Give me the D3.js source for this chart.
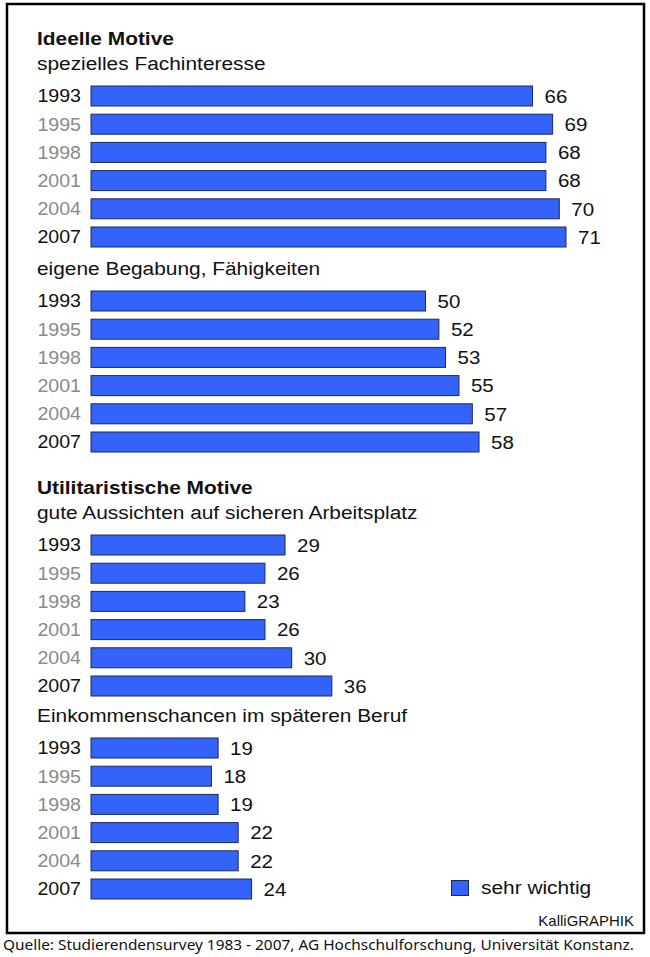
<!DOCTYPE html>
<html>
<head>
<meta charset="utf-8">
<script src="https://cdn.jsdelivr.net/npm/d3@7"></script>
<style>
  html, body { margin: 0; padding: 0; background: #fff; }
  svg { display: block; }
</style>
</head>
<body>
<div id="chart"></div>
<script>
// Daten
const jahre = ["1993", "1995", "1998", "2001", "2004", "2007"];
const jahreGrau = ["1995", "1998", "2001", "2004"];
const fachinteresse = [66, 69, 68, 68, 70, 71];
const begabung = [50, 52, 53, 55, 57, 58];
const arbeitsplatz = [29, 26, 23, 26, 30, 36];
const einkommen = [19, 18, 19, 22, 22, 24];
const titel = ["Ideelle Motive", null, "Utilitaristische Motive", null];
const untertitel = [
  "spezielles Fachinteresse",
  "eigene Begabung, Fähigkeiten",
  "gute Aussichten auf sicheren Arbeitsplatz",
  "Einkommenschancen im späteren Beruf"
];
const reihen = [fachinteresse, begabung, arbeitsplatz, einkommen];
const legende = "sehr wichtig";
const quelle = "Quelle: Studierendensurvey 1983 - 2007, AG Hochschulforschung, Universität Konstanz.";

const W = 650, H = 957;
const BLAU = "#3463fb";
const FONT = "'Liberation Sans', Arial, sans-serif";

// obere Kante der Balkenblöcke
const blockTop = [86, 291, 535, 738];
const schritt = 28.2, balkenH = 20;

const svg = d3.select("#chart").append("svg")
  .attr("width", W).attr("height", H)
  .attr("viewBox", `0 0 ${W} ${H}`);

/**
 * Text mit leichter horizontaler Streckung (Original ist breiter gesetzt).
 */
function text(sel, x, y, inhalt, { size = 18, sx = 1.15, bold = false, fill = "#111", anchor = "start", dy = null } = {}) {
  const t = sel.append("text")
    .attr("transform", `translate(${x},${y}) scale(${sx},1)`)
    .attr("font-family", FONT)
    .attr("font-size", size)
    .attr("font-weight", bold ? "bold" : "normal")
    .attr("text-anchor", anchor)
    .attr("fill", fill)
    .text(inhalt);
  if (dy) t.attr("dy", dy);
  return t;
}

// Rahmen
svg.append("rect")
  .attr("x", 7).attr("y", 4)
  .attr("width", 637).attr("height", 929)
  .attr("fill", "none").attr("stroke", "#000").attr("stroke-width", 2.5);

const x = d3.scaleLinear().domain([0, 100]).range([91, 91 + 669]);

reihen.forEach((werte, gi) => {
  const top = blockTop[gi];
  const y = d3.scaleBand()
    .domain(jahre)
    .range([top, top + schritt * 5 + balkenH])
    .paddingInner((schritt - balkenH) / schritt)
    .paddingOuter(0);

  const g = svg.append("g");

  if (titel[gi]) text(g, 37, top - 41, titel[gi], { size: 18, sx: 1.16, bold: true });
  text(g, 37, top - 16, untertitel[gi], { size: 18, sx: 1.16 });

  const daten = jahre.map((j, i) => ({ jahr: j, wert: werte[i] }));

  daten.forEach(d => {
    const yc = y(d.jahr) + y.bandwidth() / 2;
    text(g, 81, yc, d.jahr, {
      size: 18, sx: 1.09, anchor: "end", dy: "0.36em",
      fill: jahreGrau.includes(d.jahr) ? "#8a8a8a" : "#111"
    });
  });

  g.selectAll(".balken").data(daten).enter().append("rect")
    .attr("x", x(0))
    .attr("y", d => y(d.jahr))
    .attr("width", d => x(d.wert) - x(0))
    .attr("height", y.bandwidth())
    .attr("fill", BLAU)
    .attr("stroke", "#1d2a55").attr("stroke-width", 1);

  daten.forEach(d => {
    const yc = y(d.jahr) + y.bandwidth() / 2;
    text(g, x(d.wert) + 12, yc, d.wert, { size: 19, sx: 1.08, dy: "0.36em" });
  });
});

// Legende
svg.append("rect")
  .attr("x", 451.5).attr("y", 880.5)
  .attr("width", 17).attr("height", 15)
  .attr("fill", BLAU).attr("stroke", "#1d2a55").attr("stroke-width", 1);
text(svg, 481, 894, legende, { size: 18, sx: 1.16 });

text(svg, 634, 926, "KalliGRAPHIK", { size: 14, sx: 1.07, anchor: "end" });

svg.append("text")
  .attr("x", 3).attr("y", 950)
  .attr("font-family", "'Noto Sans', 'Open Sans', sans-serif").attr("font-size", 14)
  .attr("fill", "#111")
  .attr("textLength", 631).attr("lengthAdjust", "spacingAndGlyphs")
  .text(quelle);
</script>
</body>
</html>
